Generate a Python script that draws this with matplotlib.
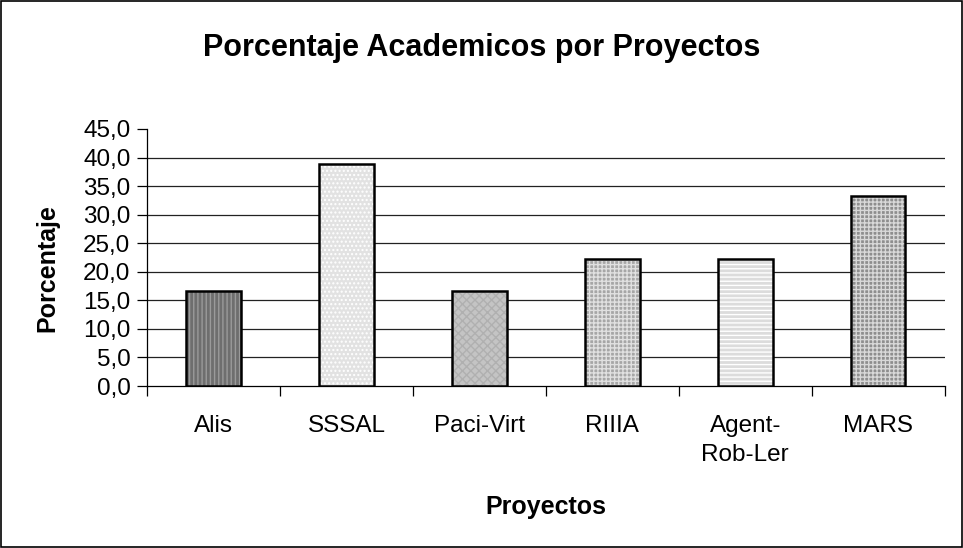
import matplotlib
matplotlib.use("Agg")
import matplotlib.pyplot as plt
import numpy as np

categories = ["Alis", "SSSAL", "Paci-Virt", "RIIIA", "Agent-\nRob-Ler", "MARS"]
values = [16.7, 38.9, 16.7, 22.2, 22.2, 33.3]
yticks = [0, 5, 10, 15, 20, 25, 30, 35, 40, 45]
ytick_labels = ["0,0", "5,0", "10,0", "15,0", "20,0", "25,0", "30,0", "35,0", "40,0", "45,0"]

facecolors = ["#6e6e6e", "#e2e2e2", "#c4c4c4", "#a6a6a6", "#dcdcdc", "#8e8e8e"]
hatchcolors = ["#9a9a9a", "#ffffff", "#b0b0b0", "#e0e0e0", "#ffffff", "#d8d8d8"]
hatches = ["||||", "....", "xxxx", "++++", "----", "++++"]

plt.rcParams['font.family'] = ['Liberation Sans', 'DejaVu Sans']

fig = plt.figure(figsize=(9.63, 5.48), dpi=100)
ax = fig.add_axes([0.1527, 0.2956, 0.8283, 0.469])

x = np.arange(len(categories))
w = 0.41
for i in range(len(categories)):
    ax.bar(x[i], values[i], width=w, color=facecolors[i], edgecolor=hatchcolors[i],
           hatch=hatches[i], linewidth=0, zorder=3)
ax.bar(x, values, width=w, facecolor="none", edgecolor="black", linewidth=1.8, zorder=4)

ax.set_xlim(-0.5, len(categories) - 0.5)
ax.set_ylim(0, 45)
ax.set_yticks(yticks)
ax.set_yticklabels(ytick_labels, fontsize=17.5)
for v in yticks[1:-1]:
    ax.axhline(v, color="#222222", linewidth=0.9, zorder=1)

ax.set_xticks(x)
ax.set_xticklabels(categories, fontsize=17.5, linespacing=1.4)
ax.tick_params(axis='x', which='major', length=0, pad=21)
ax.set_xticks(np.arange(-0.5, len(categories)), minor=True)
ax.tick_params(axis='x', which='minor', length=7, width=0.9, direction='out')
ax.tick_params(axis='y', length=7, width=0.9, direction='out', pad=5)

for s in ["top", "right"]:
    ax.spines[s].set_visible(False)
for s in ["left", "bottom"]:
    ax.spines[s].set_linewidth(0.9)

ax.set_xlabel("Proyectos", fontsize=18, fontweight="bold", labelpad=21)
ax.set_ylabel("Porcentaje", fontsize=18, fontweight="bold")
ax.yaxis.set_label_coords(-0.11, 0.46)

fig.text(0.5, 0.913, "Porcentaje Academicos por Proyectos", ha="center", va="center",
         fontsize=22, fontweight="bold")

border = plt.Rectangle((0.001, 0.001), 0.998, 0.997, transform=fig.transFigure,
                       fill=False, edgecolor="black", linewidth=1.2)
fig.patches.append(border)

fig.savefig("out.png", dpi=100, facecolor="white")
